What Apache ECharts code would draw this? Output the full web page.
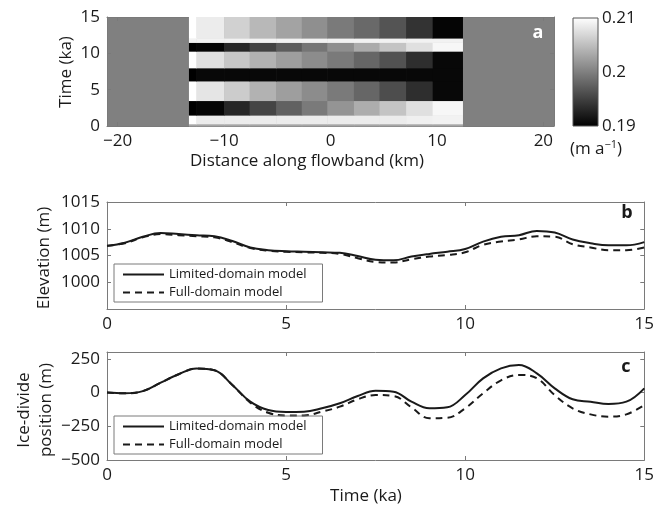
<!DOCTYPE html>
<html>
<head>
<meta charset="utf-8">
<script src="https://cdn.jsdelivr.net/npm/echarts@6/dist/echarts.min.js"></script>
<style>
  html, body { margin: 0; padding: 0; background: #fff; }
  #chart { width: 657px; height: 508px; }
</style>
</head>
<body>
<div id="chart"></div>
<script>
// panel a: accumulation rate (m a^-1), block edges in km and ka
const distEdges = [-13.3, -12.6, -10.0, -7.6, -5.1, -2.7, -0.3, 2.2, 4.6, 7.1, 9.6, 12.4];
const timeEdges = [0, 0.3, 1.5, 3.5, 6.2, 8.0, 10.3, 11.5, 12.1, 15];
// one row per time band, bottom to top, one value per distance block
const accRows = [
  [0.203, 0.203, 0.203, 0.203, 0.203, 0.203, 0.203, 0.203, 0.203, 0.203, 0.203],
  [0.210, 0.2085, 0.2085, 0.2085, 0.2085, 0.2085, 0.2085, 0.2085, 0.2085, 0.2088, 0.209],
  [0.190, 0.1904, 0.1930, 0.1954, 0.1976, 0.1996, 0.2016, 0.2036, 0.2054, 0.2076, 0.2094],
  [0.210, 0.2080, 0.2060, 0.2040, 0.2024, 0.2010, 0.1996, 0.1980, 0.1960, 0.1936, 0.1906],
  [0.190, 0.1906, 0.1906, 0.1906, 0.1906, 0.1906, 0.1906, 0.1906, 0.1906, 0.1906, 0.1906],
  [0.210, 0.2076, 0.2056, 0.2040, 0.2024, 0.2010, 0.1996, 0.1980, 0.1964, 0.1936, 0.1906],
  [0.190, 0.1904, 0.1930, 0.1952, 0.1972, 0.1992, 0.2012, 0.2034, 0.2054, 0.2076, 0.2094],
  [0.209, 0.209, 0.209, 0.209, 0.209, 0.209, 0.209, 0.209, 0.209, 0.209, 0.209],
  [0.210, 0.2085, 0.2064, 0.2044, 0.2028, 0.2012, 0.1996, 0.1982, 0.1966, 0.1940, 0.1904],
];
const distTicks = [-20, -10, 0, 10, 20];
const accTicks = [0.19, 0.2, 0.21];

// panels b and c
const timeKa = [0, 0.5, 1, 1.5, 2, 2.5, 3, 3.5, 4, 4.5, 5, 5.5, 6, 6.5, 7, 7.5,
  8, 8.5, 9, 9.5, 10, 10.5, 11, 11.5, 12, 12.5, 13, 13.5, 14, 14.5, 15];
const elevLimited = [1006.8, 1007.4, 1008.5, 1009.2, 1009.0, 1008.8, 1008.6, 1007.7, 1006.5, 1006.0,
  1005.8, 1005.7, 1005.6, 1005.5, 1004.9, 1004.2, 1004.1, 1004.8, 1005.3, 1005.7,
  1006.2, 1007.6, 1008.5, 1008.8, 1009.6, 1009.3, 1008.0, 1007.3, 1006.9, 1006.9, 1007.5];
const elevFull = [1006.8, 1007.3, 1008.4, 1009.0, 1008.8, 1008.6, 1008.4, 1007.5, 1006.4, 1005.9,
  1005.7, 1005.6, 1005.5, 1005.3, 1004.5, 1003.8, 1003.7, 1004.3, 1004.8, 1005.1,
  1005.6, 1007.0, 1007.6, 1008.0, 1008.6, 1008.5, 1007.1, 1006.5, 1006.0, 1006.0, 1006.5];
const divideLimited = [0, -6, 10, 73, 135, 178, 165, 56, -68, -130,
  -144, -142, -117, -80, -26, 13, 6, -68, -117, -110,
  -19, 105, 179, 204, 142, 31, -50, -68, -85, -68, 31];
const divideFull = [0, -6, 10, 73, 135, 178, 165, 56, -75, -150,
  -170, -170, -142, -105, -50, -19, -26, -110, -191, -187,
  -117, -6, 90, 130, 105, -20, -117, -162, -179, -162, -93];
const elevTicks = [1000, 1005, 1010, 1015];
const divideTicks = [-500, -250, 0, 250];

const FONT = 'Open Sans';
const INK = '#1a1a1a';
const FRAME = '#7a7a7a';

function grey(v) {
  let g = (v - 0.19) / 0.02;
  g = Math.max(0, Math.min(1, g));
  const c = Math.round(g * 255);
  return 'rgb(' + c + ',' + c + ',' + c + ')';
}

// plain numbers with a real minus sign, no thousands separator
const tickText = v => String(v).replace('-', '\u2212');

const cells = [];
accRows.forEach((row, i) => {
  row.forEach((v, j) => {
    cells.push([distEdges[j], distEdges[j + 1], timeEdges[i], timeEdges[i + 1], v]);
  });
});

// matlab-like box axis: inward ticks, no grid lines
function axis(extra, labels) {
  return Object.assign({
    type: 'value',
    axisLine: { show: true, onZero: false, lineStyle: { color: FRAME, width: 1 } },
    axisTick: { show: true, inside: true, length: 4, lineStyle: { color: FRAME } },
    axisLabel: labels === false ? { show: false } : {
      color: INK, fontSize: 17, fontFamily: FONT, margin: 7, formatter: tickText,
    },
    splitLine: { show: false },
  }, extra);
}

function withCustom(a, values) {
  a.axisLabel.customValues = values;
  a.axisTick.customValues = values;
  return a;
}

const myChart = echarts.init(document.getElementById('chart'));

const option = {
  backgroundColor: '#fff',
  animation: false,
  textStyle: { fontFamily: FONT },
  grid: [
    { left: 107, top: 17, width: 447, height: 109, show: true, backgroundColor: '#808080', borderWidth: 0 },
    { left: 107, top: 202, width: 541, height: 107 },
    { left: 107, top: 352, width: 541, height: 108 },
    { left: 573, top: 18, width: 25, height: 108 },
  ],
  xAxis: [
    withCustom(axis({ gridIndex: 0, min: -21, max: 21 }), distTicks),
    withCustom(axis({ gridIndex: 0, min: -21, max: 21, position: 'top' }, false), distTicks),
    axis({ gridIndex: 1, min: 0, max: 15, interval: 5 }),
    axis({ gridIndex: 1, min: 0, max: 15, interval: 5, position: 'top' }, false),
    axis({ gridIndex: 2, min: 0, max: 15, interval: 5 }),
    axis({ gridIndex: 2, min: 0, max: 15, interval: 5, position: 'top' }, false),
    { type: 'value', gridIndex: 3, min: 0, max: 1, show: false },
  ],
  yAxis: [
    axis({ gridIndex: 0, min: 0, max: 15, interval: 5 }),
    axis({ gridIndex: 0, min: 0, max: 15, interval: 5, position: 'right' }, false),
    withCustom(axis({ gridIndex: 1, min: 995, max: 1015 }), elevTicks),
    withCustom(axis({ gridIndex: 1, min: 995, max: 1015, position: 'right' }, false), elevTicks),
    withCustom(axis({ gridIndex: 2, min: -500, max: 300 }), divideTicks),
    withCustom(axis({ gridIndex: 2, min: -500, max: 300, position: 'right' }, false), divideTicks),
    {
      type: 'value', gridIndex: 3, min: 0.19, max: 0.21, position: 'right',
      axisLine: { show: false },
      axisTick: { show: false },
      splitLine: { show: false },
      axisLabel: { customValues: accTicks, color: INK, fontSize: 17, fontFamily: FONT, margin: 4, formatter: tickText },
    },
  ],
  legend: [0, 1].map(k => ({
    orient: 'vertical',
    left: 114,
    top: k === 0 ? 264 : 416,
    itemWidth: 41,
    itemHeight: 12,
    itemGap: 5,
    padding: [4, 16, 3, 8],
    borderColor: FRAME,
    borderWidth: 1,
    itemStyle: { opacity: 0 },
    textStyle: { color: INK, fontSize: 13, fontFamily: FONT },
    data: ['Limited-domain model', 'Full-domain model'],
  })),
  series: [
    {
      type: 'custom',
      xAxisIndex: 0,
      yAxisIndex: 0,
      encode: { x: [0, 1], y: [2, 3] },
      data: cells,
      silent: true,
      renderItem: (params, api) => {
        const p0 = api.coord([api.value(0), api.value(3)]);
        const p1 = api.coord([api.value(1), api.value(2)]);
        return {
          type: 'rect',
          shape: { x: p0[0], y: p0[1], width: p1[0] - p0[0] + 0.5, height: p1[1] - p0[1] + 0.5 },
          style: { fill: grey(api.value(4)) },
        };
      },
    },
    {
      type: 'custom',
      xAxisIndex: 6,
      yAxisIndex: 6,
      encode: { x: [0, 1], y: [2, 3] },
      data: [[0, 1, accTicks[0], accTicks[2]]],
      silent: true,
      renderItem: (params, api) => {
        const p0 = api.coord([api.value(0), api.value(3)]);
        const p1 = api.coord([api.value(1), api.value(2)]);
        return {
          type: 'rect',
          shape: { x: p0[0], y: p0[1], width: p1[0] - p0[0], height: p1[1] - p0[1] },
          style: {
            fill: new echarts.graphic.LinearGradient(0, 0, 0, 1, [
              { offset: 0, color: grey(0.21) },
              { offset: 1, color: grey(0.19) },
            ]),
            stroke: '#555',
            lineWidth: 1,
          },
        };
      },
    },
    {
      name: 'Limited-domain model', type: 'line', xAxisIndex: 2, yAxisIndex: 2,
      data: timeKa.map((t, i) => [t, elevLimited[i]]),
      showSymbol: false, symbol: 'none', smooth: 0.4,
      lineStyle: { color: INK, width: 2 }, itemStyle: { color: INK },
    },
    {
      name: 'Full-domain model', type: 'line', xAxisIndex: 2, yAxisIndex: 2,
      data: timeKa.map((t, i) => [t, elevFull[i]]),
      showSymbol: false, symbol: 'none', smooth: 0.4,
      lineStyle: { color: INK, width: 2, type: [7, 5] }, itemStyle: { color: INK },
    },
    {
      name: 'Limited-domain model', type: 'line', xAxisIndex: 4, yAxisIndex: 4,
      data: timeKa.map((t, i) => [t, divideLimited[i]]),
      showSymbol: false, symbol: 'none', smooth: 0.4,
      lineStyle: { color: INK, width: 2 }, itemStyle: { color: INK },
    },
    {
      name: 'Full-domain model', type: 'line', xAxisIndex: 4, yAxisIndex: 4,
      data: timeKa.map((t, i) => [t, divideFull[i]]),
      showSymbol: false, symbol: 'none', smooth: 0.4,
      lineStyle: { color: INK, width: 2, type: [7, 5] }, itemStyle: { color: INK },
    },
  ],
  graphic: [
    { type: 'text', x: 66, y: 72, rotation: Math.PI / 2,
      style: { text: 'Time (ka)', fill: INK, font: '17px "Open Sans"', align: 'center', verticalAlign: 'middle' } },
    { type: 'text', x: 307, y: 161,
      style: { text: 'Distance along flowband (km)', fill: INK, font: '17px "Open Sans"', align: 'center', verticalAlign: 'middle' } },
    { type: 'text', x: 596, y: 149,
      style: {
        text: '(m a{sup|\u22121})', fill: INK, font: '17px "Open Sans"', align: 'center', verticalAlign: 'middle',
        rich: { sup: { fontSize: 11, fontFamily: FONT, fill: INK, verticalAlign: 'top', padding: [0, 0, 8, 0] } },
      } },
    { type: 'text', x: 44, y: 258, rotation: Math.PI / 2,
      style: { text: 'Elevation (m)', fill: INK, font: '17px "Open Sans"', align: 'center', verticalAlign: 'middle' } },
    { type: 'text', x: 24, y: 410, rotation: Math.PI / 2,
      style: { text: 'Ice-divide', fill: INK, font: '17px "Open Sans"', align: 'center', verticalAlign: 'middle' } },
    { type: 'text', x: 46, y: 410, rotation: Math.PI / 2,
      style: { text: 'position (m)', fill: INK, font: '17px "Open Sans"', align: 'center', verticalAlign: 'middle' } },
    { type: 'text', x: 366, y: 496,
      style: { text: 'Time (ka)', fill: INK, font: '17px "Open Sans"', align: 'center', verticalAlign: 'middle' } },
    { type: 'text', x: 538, y: 33,
      style: { text: 'a', fill: '#fff', font: 'bold 18px "Open Sans"', align: 'center', verticalAlign: 'middle' } },
    { type: 'text', x: 627, y: 213,
      style: { text: 'b', fill: INK, font: 'bold 18px "Open Sans"', align: 'center', verticalAlign: 'middle' } },
    { type: 'text', x: 626, y: 367,
      style: { text: 'c', fill: INK, font: 'bold 18px "Open Sans"', align: 'center', verticalAlign: 'middle' } },
  ],
};

myChart.setOption(option);
</script>
</body>
</html>
